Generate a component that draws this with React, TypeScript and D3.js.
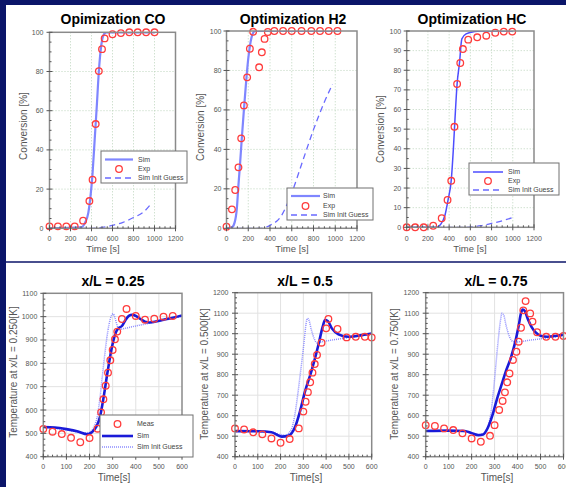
import React from 'react';
import * as d3 from 'd3';

// ---------------- Top row: conversion [%] vs time [s] ----------------
const convXTicks = [0, 200, 400, 600, 800, 1000, 1200];
const convYTicks20 = [0, 20, 40, 60, 80, 100];
const convYTicks10 = [0, 10, 20, 30, 40, 50, 60, 70, 80, 90, 100];

// CO
const coExpTime = [0, 80, 160, 240, 320, 380, 410, 440, 470, 500, 525, 600, 680, 760, 840, 920, 1000];
const coExpConv = [1, 1, 1, 1, 3.9, 13.9, 24.8, 53.2, 80.2, 91.4, 96.9, 99, 99.6, 100, 100, 100, 100];
const coSimTime = [0, 300, 340, 370, 390, 410, 430, 450, 470, 490, 510, 540, 600, 1000];
const coSimConv = [0, 0.5, 3, 8, 16, 28, 45, 62, 80, 92, 98, 100, 100, 100];
const coInitTime = [0, 400, 500, 600, 700, 800, 900, 960];
const coInitConv = [0, 0, 0.5, 1.5, 3, 5.5, 8.5, 12];

// H2
const h2ExpTime = [0, 50, 80, 110, 135, 160, 190, 215, 245, 300, 325, 350, 380, 440, 520, 600, 690, 780, 860, 940, 1020];
const h2ExpConv = [0.8, 9.6, 19.4, 30.9, 45.6, 62.3, 76.5, 91, 99.6, 81.6, 89.2, 96, 99.5, 100, 100, 100, 100, 100, 100, 100, 100];
const h2SimTime = [0, 50, 75, 95, 110, 125, 140, 160, 180, 200, 220, 240, 265, 1040];
const h2SimConv = [0, 0.5, 3, 10, 22, 33, 45, 60, 74, 86, 94, 98.5, 100, 100];
const h2InitTime = [0, 300, 400, 500, 600, 700, 800, 900, 975];
const h2InitConv = [0, 0, 1.5, 6, 18, 34, 50, 64, 73];

// HC
const hcExpTime = [0, 80, 160, 250, 330, 385, 420, 450, 475, 505, 530, 580, 665, 750, 835, 915, 995];
const hcExpConv = [0, 0, 0, 0.8, 4.6, 13.9, 23.7, 51.2, 73, 83.7, 90.8, 95.6, 96.8, 97.6, 99.1, 99.7, 99.7];
const hcSimTime = [0, 280, 320, 360, 390, 420, 440, 455, 475, 500, 512, 520, 560, 640, 700, 1000];
const hcSimConv = [0, 0, 1.5, 6, 14, 24, 40, 55, 73, 85, 93, 96, 98.5, 99.7, 100, 100];
const hcInitTime = [0, 550, 700, 800, 900, 1000];
const hcInitConv = [0, 0, 0.8, 2, 3.3, 5];

// ---------------- Bottom row: temperature [K] vs time [s] ----------------
const tempXTicks = [0, 100, 200, 300, 400, 500, 600];
const tempYTicks1100 = [400, 500, 600, 700, 800, 900, 1000, 1100];
const tempYTicks1200 = [400, 500, 600, 700, 800, 900, 1000, 1100, 1200];

// x/L = 0.25
const q1MeasTime = [0, 40, 80, 120, 160, 200, 235, 250, 260, 270, 280, 290, 300, 310, 320, 340, 360, 400, 440, 480, 520, 560];
const q1MeasTemp = [519, 507, 497, 481, 462, 480, 520, 590, 646, 704, 760, 813, 857, 903, 936, 990, 1033, 1003, 987, 991, 1000, 1003];
const q1SimTime = [0, 50, 100, 150, 190, 210, 230, 245, 255, 265, 275, 285, 295, 305, 315, 325, 340, 355, 370, 385, 400, 420, 440, 460, 490, 520, 560, 600];
const q1SimTemp = [527, 525, 518, 508, 496, 505, 530, 570, 620, 680, 745, 805, 860, 905, 935, 950, 960, 985, 1003, 1008, 1003, 990, 978, 975, 980, 987, 995, 1005];
const q1InitTime = [0, 100, 180, 200, 220, 235, 245, 255, 265, 275, 285, 295, 302, 310, 320, 330, 345, 400, 450, 500, 550, 600];
const q1InitTemp = [525, 515, 502, 505, 530, 580, 650, 740, 830, 910, 970, 1005, 1012, 995, 960, 945, 948, 960, 970, 980, 990, 1002];

// x/L = 0.5
const q2MeasTime = [0, 40, 80, 120, 160, 200, 240, 280, 300, 310, 320, 330, 340, 350, 360, 380, 400, 410, 450, 490, 530, 570, 600];
const q2MeasTemp = [538, 533, 519, 509, 489, 468, 486, 538, 620, 668, 715, 763, 810, 852, 896, 956, 1026, 1072, 1023, 982, 985, 985, 982];
const q2SimTime = [0, 100, 160, 205, 234, 264, 285, 307, 337, 366, 385, 395, 407, 425, 454, 498, 556, 600];
const q2SimTemp = [525, 524, 519, 498, 502, 546, 620, 717, 823, 945, 1034, 1067, 1062, 1026, 997, 985, 993, 1001];
const q2InitTime = [0, 150, 200, 220, 240, 255, 265, 275, 285, 295, 305, 312, 318, 325, 335, 350, 360, 380, 420, 480, 540, 600];
const q2InitTemp = [525, 522, 508, 505, 520, 560, 620, 700, 790, 880, 980, 1050, 1075, 1065, 1020, 970, 955, 960, 968, 978, 988, 998];

// x/L = 0.75
const q3MeasTime = [0, 40, 80, 120, 160, 200, 240, 280, 300, 320, 335, 345, 355, 365, 380, 395, 405, 415, 425, 435, 455, 465, 485, 525, 565, 600];
const q3MeasTemp = [554, 550, 538, 530, 514, 489, 473, 502, 554, 628, 672, 714, 763, 806, 872, 912, 961, 1029, 1114, 1159, 1099, 1059, 1007, 985, 985, 989];
const q3SimTime = [0, 100, 170, 200, 230, 250, 270, 290, 310, 330, 350, 370, 390, 405, 415, 422, 432, 445, 460, 480, 500, 530, 570, 600];
const q3SimTemp = [525, 527, 525, 515, 505, 508, 540, 600, 680, 750, 820, 880, 960, 1040, 1100, 1118, 1110, 1070, 1035, 1005, 990, 985, 990, 995];
const q3InitTime = [0, 150, 200, 240, 260, 275, 285, 295, 305, 315, 325, 332, 340, 350, 365, 380, 400, 450, 500, 550, 600];
const q3InitTemp = [525, 525, 515, 510, 525, 560, 620, 720, 840, 960, 1060, 1100, 1090, 1040, 985, 962, 960, 968, 975, 983, 990];

const NAVY = '#0b1569';
const FONT = 'Liberation Sans, Arial, Helvetica, sans-serif';
const RED = '#ff3c3c';

type LineDef = { t: number[]; v: number[]; stroke: string; width: number; dash?: string };
type LegendItem = { label: string; kind: 'line' | 'circle'; stroke: string; width?: number; dash?: string };
type Legend = { x: number; y: number; w: number; h: number; rows: number[]; s0: number; s1: number; tx: number; items: LegendItem[] };

interface PanelProps {
  id: string;
  frame: { x0: number; x1: number; y0: number; y1: number };
  xDomain: [number, number];
  yDomain: [number, number];
  xTicks: number[];
  yTicks: number[];
  xMinor: number;
  yMinor: number;
  grid: 'dot' | 'solid';
  title: string; titleX: number; titleY: number;
  yLabel: string; yLabelX: number; yLabelY: number;
  xLabel: string; xLabelX: number; xLabelY: number; xLabelSize: number;
  xTickY: number; yTickGap: number;
  lines: LineDef[];
  points: { t: number[]; v: number[] };
  legend?: Legend;
}

function Panel(p: PanelProps) {
  const { frame: f } = p;
  const x = d3.scaleLinear().domain(p.xDomain).range([f.x0, f.x1]);
  const y = d3.scaleLinear().domain(p.yDomain).range([f.y0, f.y1]);
  const minorX = d3.range(p.xDomain[0], p.xDomain[1] + 1e-6, p.xMinor).filter((v) => !p.xTicks.includes(v));
  const minorY = d3.range(p.yDomain[0], p.yDomain[1] + 1e-6, p.yMinor).filter((v) => !p.yTicks.includes(v));
  const gridStroke = p.grid === 'dot' ? '#bcd4bc' : '#e2e2e2';
  const gridDash = p.grid === 'dot' ? '1,2' : undefined;
  const mk = (t: number[], v: number[]) =>
    d3.line<number>().x((_, i) => x(t[i])).y((d) => y(d)).curve(d3.curveMonotoneX)(v) ?? '';
  const L = p.legend;
  return (
    <g>
      <defs>
        <clipPath id={p.id}>
          <rect x={f.x0} y={f.y1} width={f.x1 - f.x0} height={f.y0 - f.y1} />
        </clipPath>
      </defs>
      {p.xTicks.slice(1, -1).map((v) => (
        <line key={'gx' + v} x1={x(v)} x2={x(v)} y1={f.y0} y2={f.y1} stroke={gridStroke} strokeDasharray={gridDash} />
      ))}
      {p.yTicks.slice(1, -1).map((v) => (
        <line key={'gy' + v} x1={f.x0} x2={f.x1} y1={y(v)} y2={y(v)} stroke={gridStroke} strokeDasharray={gridDash} />
      ))}
      <g clipPath={`url(#${p.id})`}>
        {p.lines.map((l, i) => (
          <path key={i} d={mk(l.t, l.v)} fill="none" stroke={l.stroke} strokeWidth={l.width} strokeDasharray={l.dash} />
        ))}
      </g>
      {p.points.t.map((t, i) => (
        <circle key={'p' + i} cx={x(t)} cy={y(p.points.v[i])} r={3.3} fill="none" stroke={RED} strokeWidth={1.3} />
      ))}
      <rect x={f.x0} y={f.y1} width={f.x1 - f.x0} height={f.y0 - f.y1} fill="none" stroke="#8a8a8a" strokeWidth={1.5} />
      {p.xTicks.map((v) => (
        <line key={'tx' + v} x1={x(v)} x2={x(v)} y1={f.y0 - 3} y2={f.y0 + 3} stroke="#555" strokeWidth={1} />
      ))}
      {minorX.map((v) => (
        <line key={'mx' + v} x1={x(v)} x2={x(v)} y1={f.y0 - 2} y2={f.y0} stroke="#555" strokeWidth={1} />
      ))}
      {p.yTicks.map((v) => (
        <line key={'ty' + v} x1={f.x0 - 3} x2={f.x0 + 3} y1={y(v)} y2={y(v)} stroke="#555" strokeWidth={1} />
      ))}
      {minorY.map((v) => (
        <line key={'my' + v} x1={f.x0} x2={f.x0 + 2} y1={y(v)} y2={y(v)} stroke="#555" strokeWidth={1} />
      ))}
      {p.xTicks.map((v) => (
        <text key={'lx' + v} x={x(v)} y={p.xTickY} textAnchor="middle" fontSize={7} fill="#555" fontFamily={FONT}>
          {v}
        </text>
      ))}
      {p.yTicks.map((v) => (
        <text key={'ly' + v} x={f.x0 - p.yTickGap} y={y(v) + 2.5} textAnchor="end" fontSize={7} fill="#555" fontFamily={FONT}>
          {v}
        </text>
      ))}
      <text x={p.titleX} y={p.titleY} textAnchor="middle" fontSize={14} fontWeight="bold" fill="#000" fontFamily={FONT}>
        {p.title}
      </text>
      <text transform={`translate(${p.yLabelX},${p.yLabelY}) rotate(-90)`} textAnchor="middle" fontSize={10} fill="#555" fontFamily={FONT}>
        {p.yLabel}
      </text>
      <text x={p.xLabelX} y={p.xLabelY} textAnchor="middle" fontSize={p.xLabelSize} fill="#555" fontFamily={FONT}>
        {p.xLabel}
      </text>
      {L && (
        <g>
          <rect x={L.x} y={L.y} width={L.w} height={L.h} fill="#fff" stroke="#707070" strokeWidth={1} />
          {L.items.map((it, i) => (
            <g key={'lg' + i}>
              {it.kind === 'circle' ? (
                <circle cx={(L.s0 + L.s1) / 2} cy={L.rows[i]} r={3.3} fill="none" stroke={it.stroke} strokeWidth={1.3} />
              ) : (
                <line x1={L.s0} x2={L.s1} y1={L.rows[i]} y2={L.rows[i]} stroke={it.stroke} strokeWidth={it.width} strokeDasharray={it.dash} />
              )}
              <text x={L.tx} y={L.rows[i] + 2.3} fontSize={7} fill="#444" fontFamily={FONT}>
                {it.label}
              </text>
            </g>
          ))}
        </g>
      )}
    </g>
  );
}

const SIM_LIGHT = '#7f86ff';
const SIM_HC = '#4d4dff';
const INIT_TOP = '#6a6aff';
const SIM_DARK = '#1a1ad8';
const INIT_DOT = '#8c8cff';

const topLegendItems = (simColor: string, simW: number): LegendItem[] => [
  { label: 'Sim', kind: 'line', stroke: simColor, width: simW },
  { label: 'Exp', kind: 'circle', stroke: RED },
  { label: 'Sim Init Guess', kind: 'line', stroke: INIT_TOP, width: 1.3, dash: '6,4' },
];
const bottomLegendItems: LegendItem[] = [
  { label: 'Meas', kind: 'circle', stroke: RED },
  { label: 'Sim', kind: 'line', stroke: SIM_DARK, width: 2.6 },
  { label: 'Sim Init Guess', kind: 'line', stroke: INIT_DOT, width: 1.5, dash: '1,1' },
];

export default function App() {
  return (
    <div style={{ position: 'absolute', left: 0, top: 0, width: 566, height: 487 }}>
      <svg width={566} height={487} style={{ display: 'block' }}>
        <rect x={0} y={0} width={566} height={487} fill={NAVY} />
        <rect x={6} y={5} width={560} height={482} fill="#fff" />
        <line x1={6} x2={566} y1={262} y2={262} stroke={NAVY} strokeWidth={1.6} />

        <Panel
          id="c1"
          frame={{ x0: 49.5, x1: 175.5, y0: 228.3, y1: 32.3 }}
          xDomain={[0, 1200]} yDomain={[0, 100]}
          xTicks={convXTicks} yTicks={convYTicks20} xMinor={50} yMinor={5}
          grid="dot"
          title="Opimization CO" titleX={113} titleY={24}
          yLabel="Conversion [%]" yLabelX={27} yLabelY={126}
          xLabel="Time [s]" xLabelX={103} xLabelY={251.5} xLabelSize={9.5}
          xTickY={240.5} yTickGap={6}
          lines={[
            { t: coInitTime, v: coInitConv, stroke: INIT_TOP, width: 1.3, dash: '6,4' },
            { t: coSimTime, v: coSimConv, stroke: SIM_LIGHT, width: 2.2 },
          ]}
          points={{ t: coExpTime, v: coExpConv }}
          legend={{ x: 101, y: 151, w: 86, h: 32, rows: [159.5, 169, 178], s0: 105, s1: 133, tx: 138, items: topLegendItems(SIM_LIGHT, 2.2) }}
        />
        <Panel
          id="c2"
          frame={{ x0: 226.5, x1: 357, y0: 228.3, y1: 31 }}
          xDomain={[0, 1200]} yDomain={[0, 100]}
          xTicks={convXTicks} yTicks={convYTicks20} xMinor={50} yMinor={5}
          grid="dot"
          title="Optimization H2" titleX={293} titleY={24}
          yLabel="Conversion [%]" yLabelX={204} yLabelY={127}
          xLabel="Time [s]" xLabelX={292} xLabelY={251.5} xLabelSize={9.5}
          xTickY={240.5} yTickGap={5}
          lines={[
            { t: h2InitTime, v: h2InitConv, stroke: INIT_TOP, width: 1.3, dash: '6,4' },
            { t: h2SimTime, v: h2SimConv, stroke: SIM_LIGHT, width: 2.2 },
          ]}
          points={{ t: h2ExpTime, v: h2ExpConv }}
          legend={{ x: 287, y: 188, w: 86, h: 32, rows: [196, 206, 215], s0: 291, s1: 320, tx: 323, items: topLegendItems(SIM_LIGHT, 2.2) }}
        />
        <Panel
          id="c3"
          frame={{ x0: 406.7, x1: 534, y0: 227.3, y1: 31 }}
          xDomain={[0, 1200]} yDomain={[0, 100]}
          xTicks={convXTicks} yTicks={convYTicks10} xMinor={50} yMinor={5}
          grid="dot"
          title="Optimization HC" titleX={472} titleY={24}
          yLabel="Conversion [%]" yLabelX={384} yLabelY={129}
          xLabel="Time [s]" xLabelX={470} xLabelY={251.5} xLabelSize={9.5}
          xTickY={240.5} yTickGap={5.5}
          lines={[
            { t: hcInitTime, v: hcInitConv, stroke: INIT_TOP, width: 1.3, dash: '6,4' },
            { t: hcSimTime, v: hcSimConv, stroke: SIM_HC, width: 1.5 },
          ]}
          points={{ t: hcExpTime, v: hcExpConv }}
          legend={{ x: 469, y: 163, w: 90, h: 32, rows: [172, 181, 190], s0: 473, s1: 503, tx: 508, items: topLegendItems(SIM_HC, 1.5) }}
        />

        <Panel
          id="c4"
          frame={{ x0: 43.3, x1: 182, y0: 456.7, y1: 293.3 }}
          xDomain={[0, 600]} yDomain={[400, 1100]}
          xTicks={tempXTicks} yTicks={tempYTicks1100} xMinor={20} yMinor={25}
          grid="solid"
          title="x/L = 0.25" titleX={113} titleY={286}
          yLabel="Temperature at x/L = 0.250[K]" yLabelX={17} yLabelY={372}
          xLabel="Time[s]" xLabelX={114} xLabelY={481} xLabelSize={10}
          xTickY={469} yTickGap={6}
          lines={[
            { t: q1InitTime, v: q1InitTemp, stroke: INIT_DOT, width: 1.5, dash: '1,1' },
            { t: q1SimTime, v: q1SimTemp, stroke: SIM_DARK, width: 2.6 },
          ]}
          points={{ t: q1MeasTime, v: q1MeasTemp }}
          legend={{ x: 100, y: 415, w: 93, h: 42, rows: [424, 436, 447], s0: 102, s1: 133, tx: 137, items: bottomLegendItems }}
        />
        <Panel
          id="c5"
          frame={{ x0: 235, x1: 371.7, y0: 456.7, y1: 292.7 }}
          xDomain={[0, 600]} yDomain={[400, 1200]}
          xTicks={tempXTicks} yTicks={tempYTicks1200} xMinor={20} yMinor={25}
          grid="solid"
          title="x/L = 0.5" titleX={305} titleY={286}
          yLabel="Temperature at x/L = 0.500[K]" yLabelX={208} yLabelY={374}
          xLabel="Time[s]" xLabelX={306} xLabelY={481} xLabelSize={10}
          xTickY={469} yTickGap={6.5}
          lines={[
            { t: q2InitTime, v: q2InitTemp, stroke: INIT_DOT, width: 1.5, dash: '1,1' },
            { t: q2SimTime, v: q2SimTemp, stroke: SIM_DARK, width: 2.6 },
          ]}
          points={{ t: q2MeasTime, v: q2MeasTemp }}
        />
        <Panel
          id="c6"
          frame={{ x0: 425.7, x1: 563.5, y0: 456.7, y1: 292.7 }}
          xDomain={[0, 600]} yDomain={[400, 1200]}
          xTicks={tempXTicks} yTicks={tempYTicks1200} xMinor={20} yMinor={25}
          grid="solid"
          title="x/L = 0.75" titleX={496} titleY={286}
          yLabel="Temperature at x/L = 0.750[K]" yLabelX={398} yLabelY={374}
          xLabel="Time[s]" xLabelX={497} xLabelY={481} xLabelSize={10}
          xTickY={469} yTickGap={6.5}
          lines={[
            { t: q3InitTime, v: q3InitTemp, stroke: INIT_DOT, width: 1.5, dash: '1,1' },
            { t: q3SimTime, v: q3SimTemp, stroke: SIM_DARK, width: 2.6 },
          ]}
          points={{ t: q3MeasTime, v: q3MeasTemp }}
        />
      </svg>
    </div>
  );
}
